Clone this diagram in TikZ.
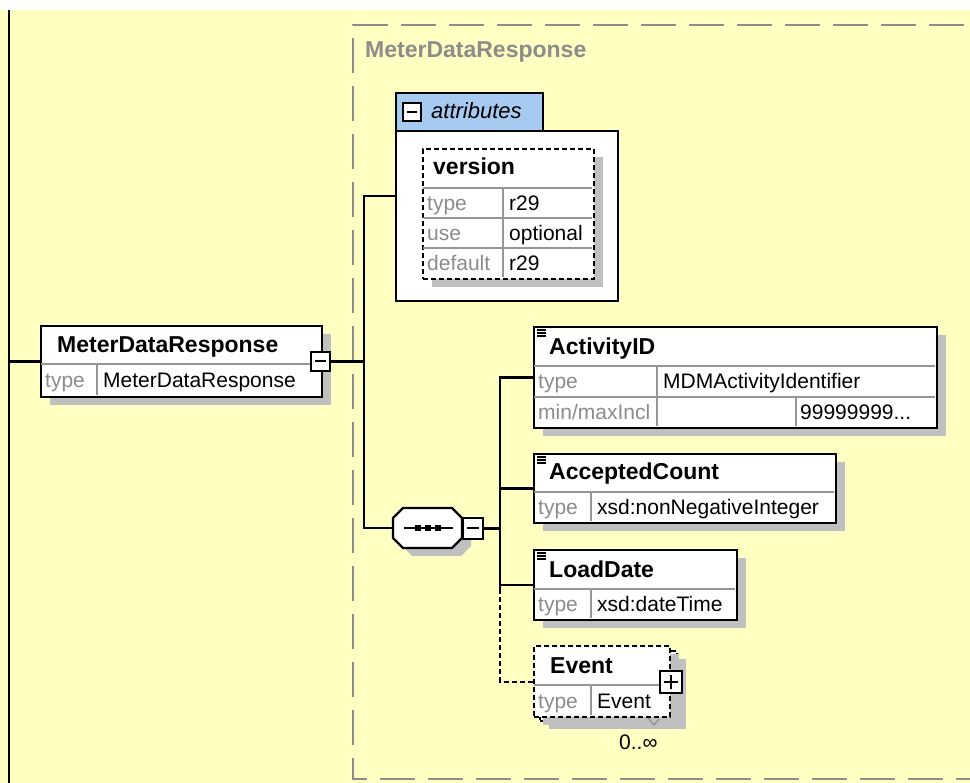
\documentclass[tikz,border=0pt]{standalone}
\usepackage{fontspec}
\setmainfont{Liberation Sans}
\usepackage{xcolor}
\usepackage{tikz}
\usetikzlibrary{positioning,shadows}
\definecolor{bgyellow}{RGB}{255,255,194}
\definecolor{tabblue}{RGB}{166,202,240}
\definecolor{shadowgray}{RGB}{192,192,192}
\definecolor{labelgray}{RGB}{140,140,140}
\definecolor{rowgray}{RGB}{150,150,150}
\definecolor{framegray}{RGB}{140,140,140}
\tikzset{elem node/.style={draw,fill=white,line width=2.2pt,anchor=north west,inner sep=0pt,
    drop shadow={shadow xshift=9pt,shadow yshift=-8pt,fill=shadowgray,opacity=1}},
  opt node/.style={elem node,dash pattern=on 5pt off 3pt},
  toggle node/.style={draw,fill=white,line width=2pt,minimum width=20pt,minimum height=20pt,inner sep=0pt},
  minus node/.style={toggle node,path picture={\draw[line width=2pt]
    ([xshift=4pt]path picture bounding box.west) -- ([xshift=-4pt]path picture bounding box.east);}},
  plus node/.style={toggle node,path picture={\draw[line width=2pt]
    ([xshift=4pt]path picture bounding box.west) -- ([xshift=-4pt]path picture bounding box.east)
    ([yshift=4pt]path picture bounding box.south) -- ([yshift=-4pt]path picture bounding box.north);}},
  title text/.style={anchor=west,inner sep=0pt,text height=16pt,text depth=0pt,font=\fontsize{23}{27}\selectfont\bfseries},
  key text/.style={anchor=west,inner sep=0pt,text height=15pt,text depth=0pt,text=labelgray,font=\fontsize{21}{25}\selectfont},
  val text/.style={key text,text=black},
  row line/.style={draw=rowgray,line width=1.6pt},
  conn/.style={draw,line width=2.2pt},
}

\begin{document}
\begin{tikzpicture}[x=1pt,y=-1pt]
    \useasboundingbox (0,0) rectangle (970,783);
    \fill[bgyellow] (0,10) rectangle (970,783);
    % group frame
    \draw[framegray,line width=2.2pt,dash pattern=on 35pt off 13pt,dash phase=-6pt] (970,25) -- (353,25) -- (353,779) -- (970,779);
    \node[anchor=west,inner sep=0pt,text=framegray,font=\fontsize{23}{27}\selectfont\bfseries] (grp) at (365,52) {MeterDataResponse};

    \coordinate (top) at (9,10);
    \coordinate (bot) at (9,783);
    \coordinate (trunk) at (364,0);
    \coordinate (seqtrunk) at (500,0);

    % root element
    \node[elem node,minimum width=281pt,minimum height=71pt] (root) at (40,325) {};
    \draw[row line] (41,364) -- (320,364) (97,364) -- (97,395);
    \node[title text] (roottitle) at (57,345) {MeterDataResponse};
    \node[key text] (roottype) at (45,380) {type};
    \node[val text] (rootval) at (103,380) {MeterDataResponse};
    \node[minus node,minimum width=19pt,minimum height=19pt] (rootmin) at (320.5,361.5) {};

    % attributes
    \node[draw,fill=tabblue,line width=2.2pt,anchor=north west,minimum width=147pt,minimum height=38pt] (attrtab) at (395,92) {};
    \node[draw,fill=white,line width=2.2pt,anchor=north west,minimum width=222pt,minimum height=170pt] (attr) at (395,130) {};
    \node[minus node,minimum width=18pt,minimum height=18pt] (attrmin) at (412,112) {};
    \node[anchor=west,inner sep=0pt,text height=16pt,text depth=0pt,font=\fontsize{22}{26}\selectfont\itshape] (attrlbl) at (431,111) {attributes};

    \node[opt node,minimum width=171pt,minimum height=130pt] (version) at (422,148) {};
    \draw[row line] (423,188) -- (592,188) (423,218) -- (592,218) (423,248) -- (592,248) (503,188) -- (503,277);
    \node[title text] (vertitle) at (433,167) {version};
    \node[key text] (vtype) at (427,203) {type};
    \node[val text] (vtypeval) at (509,203) {r29};
    \node[key text] (vuse) at (427,233) {use};
    \node[val text] (vuseval) at (509,233) {optional};
    \node[key text] (vdef) at (427,263) {default};
    \node[val text] (vdefval) at (509,263) {r29};

    % sequence
    \fill[shadowgray,shift={(9,8)}] (403,508) -- (452,508) -- (462,518) -- (462,538) -- (452,548) -- (403,548) -- (393,538) -- (393,518) -- cycle;
    \draw[fill=white,line width=2.2pt] (403,508) -- (452,508) -- (462,518) -- (462,538) -- (452,548) -- (403,548) -- (393,538) -- (393,518) -- cycle;
    \node[minimum width=69pt,minimum height=40pt,inner sep=0pt,anchor=north west] (seq) at (393,508) {};
    \draw[line width=2pt] ([xshift=11pt]seq.west) -- ([xshift=-9pt]seq.east);
    \foreach \dx in {-10,0,10}
      \fill ([xshift=\dx pt]seq.center) +(-3pt,-3pt) rectangle +(3pt,3pt);
    \node[minus node,minimum width=20pt,minimum height=21pt] (seqmin) at (473,528.5) {};

    % children
    \node[elem node,minimum width=403pt,minimum height=101pt] (actid) at (533,326) {};
    \draw[row line] (534,366) -- (935,366) (534,397) -- (935,397) (657,366) -- (657,426) (796,397) -- (796,426);
    \node[title text] (actidtitle) at (549,347) {ActivityID};
    \node[key text] (actidtype) at (538,381) {type};
    \node[val text] (actidval) at (663,381) {MDMActivityIdentifier};
    \node[key text] (actidmax) at (538,412) {min/maxIncl};
    \node[val text] (actidmaxval) at (800,412) {99999999...};

    \node[elem node,minimum width=302pt,minimum height=69pt] (accnt) at (533,453) {};
    \draw[row line] (534,492) -- (834,492) (591,492) -- (591,521);
    \node[title text] (accnttitle) at (549,472) {AcceptedCount};
    \node[key text] (accnttype) at (538,507) {type};
    \node[val text] (accntval) at (597,507) {xsd:nonNegativeInteger};

    \node[elem node,minimum width=203pt,minimum height=70pt] (ldate) at (533,549) {};
    \draw[row line] (534,589) -- (735,589) (591,589) -- (591,618);
    \node[title text] (ldatetitle) at (549,569) {LoadDate};
    \node[key text] (ldatetype) at (538,604) {type};
    \node[val text] (ldateval) at (597,604) {xsd:dateTime};

    \foreach \n in {actid,accnt,ldate}
      \foreach \dy in {4,7,10}
        \draw[line width=1.2pt] ([xshift=4pt,yshift=-\dy pt]\n.north west) -- ++(9pt,0pt);

    \node[opt node,minimum width=137pt,minimum height=70pt] (eventbk) at (539,650) {};
    \node[opt node,drop shadow={opacity=0},minimum width=136pt,minimum height=71pt] (event) at (533,645) {};
    \draw[row line] (534,685) -- (668,685) (591,685) -- (591,715);
    \node[title text] (eventtitle) at (550,665) {Event};
    \node[key text] (eventtype) at (538,701) {type};
    \node[val text] (eventval) at (597,701) {Event};
    \node[plus node,minimum width=22pt,minimum height=22pt] (eventplus) at (671,682) {};
    \draw[labelgray,line width=1pt] (648,718) -- (654,725) -- (659,719);
    \node[val text] (eventocc) at (619,742) {0..∞};

    % connectors
    \path[conn]
    (top) -- (bot)
    (root.west -| top) -- (root.west)
    (rootmin.east) -- (rootmin.east -| trunk)
    ([yshift=20pt]attr.west) -| (trunk |- seq.west) -- (seq.west)
    (seqmin.east) -- (seqmin.east -| seqtrunk)
    (actid.west) -| ([yshift=-4pt]seqtrunk |- ldate.west)
    (accnt.west -| seqtrunk) -- (accnt.west)
    (ldate.west -| seqtrunk) -- (ldate.west)
    ;
    \draw[conn,dash pattern=on 5pt off 3pt] ([yshift=-4pt]seqtrunk |- ldate.west) |- (event.west);
\end{tikzpicture}
\end{document}
